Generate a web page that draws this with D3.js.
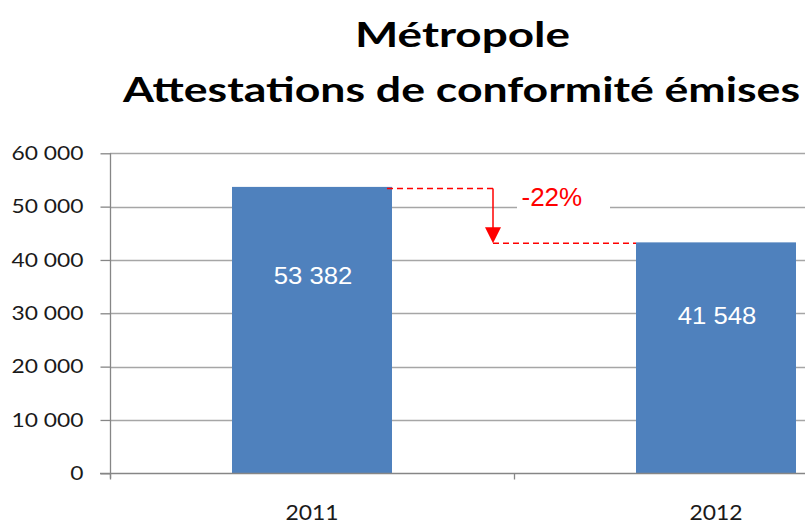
<!DOCTYPE html>
<html>
<head>
<meta charset="utf-8">
<script src="https://cdn.jsdelivr.net/npm/d3@7"></script>
<style>
  body { margin: 0; background: #fff; }
  svg { display: block; }
</style>
</head>
<body>
<svg id="chart" width="805" height="524"></svg>
<script>
// data
const years = ["2011", "2012"];
const values = [53700, 43300];
const valueLabels = ["53 382", "41 548"];
const yTicks = [0, 10000, 20000, 30000, 40000, 50000, 60000];
const titleLines = ["Métropole", "Attestations de conformité émises"];
const changeLabel = "-22%";

const svg = d3.select("#chart");
const plotLeft = 110, plotRight = 918, plotTop = 153.3, plotBottom = 473.3;

const y = d3.scaleLinear().domain([0, 60000]).range([plotBottom, plotTop]);
const x = d3.scaleBand().domain(years).range([plotLeft, plotRight])
  .paddingInner(0.604).paddingOuter(0.302);
const xEdges = d3.scaleLinear().domain([0, years.length]).range([plotLeft, plotRight]);

const fmt = (d) => d3.format(",")(d).replace(/,/g, " ");

// the original font is wider than Lato, stretch text a bit
function widen(sel, k) {
  sel.each(function () {
    const w = this.getComputedTextLength();
    d3.select(this).attr("textLength", w * k).attr("lengthAdjust", "spacingAndGlyphs");
  });
}

// title
svg.append("g")
  .selectAll("text")
  .data(titleLines)
  .join("text")
  .attr("x", (d, i) => [462.5, 461.5][i])
  .attr("y", (d, i) => [46.7, 102.3][i])
  .attr("text-anchor", "middle")
  .attr("font-family", "Lato, 'Open Sans', sans-serif")
  .attr("font-weight", "bold")
  .attr("font-size", 33.5)
  .attr("fill", "#000")
  .attr("textLength", (d, i) => [215, 677][i])
  .attr("lengthAdjust", "spacingAndGlyphs")
  .text((d) => d);

// gridlines
svg.append("g")
  .selectAll("line")
  .data(yTicks.filter((d) => d > 0))
  .join("line")
  .attr("x1", plotLeft).attr("x2", 805)
  .attr("y1", (d) => Math.round(y(d)) + 0.5)
  .attr("y2", (d) => Math.round(y(d)) + 0.5)
  .attr("stroke", "#a6a6a6")
  .attr("stroke-width", 1.3);

// bars
svg.append("g")
  .selectAll("rect")
  .data(years)
  .join("rect")
  .attr("x", (d) => x(d))
  .attr("y", (d, i) => y(values[i]))
  .attr("width", x.bandwidth())
  .attr("height", (d, i) => plotBottom - y(values[i]))
  .attr("fill", "#4f81bd");

// value labels
svg.append("g")
  .selectAll("text")
  .data(years)
  .join("text")
  .attr("x", (d) => x(d) + x.bandwidth() / 2 + 1)
  .attr("y", (d, i) => y(values[i]) + (plotBottom - y(values[i])) * 0.28 + 17.3)
  .attr("text-anchor", "middle")
  .attr("font-family", "'Liberation Sans', Arial, sans-serif")
  .attr("font-size", 24)
  .attr("fill", "#fff")
  .text((d, i) => valueLabels[i])
  .call(widen, 1.07);

// y axis
const yAxis = svg.append("g")
  .attr("transform", `translate(${plotLeft + 0.5},0)`)
  .call(d3.axisLeft(y).tickValues(yTicks).tickFormat(fmt).tickSize(10).tickSizeOuter(0).tickPadding(17));
yAxis.select(".domain").attr("stroke", "#868686").attr("stroke-width", 1.3)
  .attr("d", `M0,${plotTop}V${plotBottom + 5}`);
yAxis.selectAll(".tick line").attr("stroke", "#868686").attr("stroke-width", 1.3);
yAxis.selectAll(".tick text")
  .attr("font-family", "Lato, 'Open Sans', sans-serif")
  .attr("font-size", 19.5)
  .attr("fill", "#1a1a1a")
  .call(widen, 1.17);

// x axis: ticks at category edges, labels at centres
const xAxis = svg.append("g")
  .attr("transform", `translate(0,${Math.round(plotBottom) + 0.5})`)
  .call(d3.axisBottom(xEdges).tickValues(d3.range(years.length + 1)).tickFormat("").tickSize(6).tickSizeOuter(0));
xAxis.select(".domain").attr("stroke", "#868686").attr("stroke-width", 1.3)
  .attr("d", `M${plotLeft - 10},0H${plotRight}`);
xAxis.selectAll(".tick line").attr("stroke", "#868686").attr("stroke-width", 1.3);

const xLabels = svg.append("g")
  .attr("transform", `translate(0,${plotBottom})`)
  .call(d3.axisBottom(x).tickSize(0).tickPadding(32));
xLabels.select(".domain").remove();
xLabels.selectAll(".tick text")
  .attr("font-family", "Lato, 'Open Sans', sans-serif")
  .attr("font-size", 21)
  .attr("fill", "#1a1a1a")
  .call(widen, 1.09);

// red change annotation
const y1 = y(values[0]) + 1.5, y2 = y(values[1]) + 1;
const ax = 493;
const red = "#ff0000";
svg.append("line")
  .attr("x1", x(years[0]) + x.bandwidth() - 5).attr("x2", ax)
  .attr("y1", y1).attr("y2", y1)
  .attr("stroke", red).attr("stroke-width", 1.5).attr("stroke-dasharray", "6,4");
svg.append("line")
  .attr("x1", ax).attr("x2", x(years[1]))
  .attr("y1", y2).attr("y2", y2)
  .attr("stroke", red).attr("stroke-width", 1.5).attr("stroke-dasharray", "6,4");
svg.append("line")
  .attr("x1", ax).attr("x2", ax)
  .attr("y1", y1).attr("y2", y2 - 14)
  .attr("stroke", red).attr("stroke-width", 1.5);
svg.append("path")
  .attr("d", `M${ax - 8},${y2 - 16}L${ax + 8},${y2 - 16}L${ax},${y2}Z`)
  .attr("fill", red);

svg.append("rect")
  .attr("x", 517).attr("y", 184).attr("width", 93).attr("height", 30)
  .attr("fill", "#fff");
svg.append("text")
  .attr("x", 521.5).attr("y", 206)
  .attr("font-family", "'Liberation Sans', Arial, sans-serif")
  .attr("font-size", 26)
  .attr("fill", red)
  .text(changeLabel);
</script>
</body>
</html>
